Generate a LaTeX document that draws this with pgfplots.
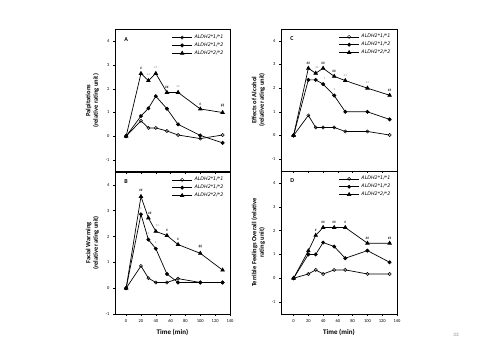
\documentclass[border=0pt]{standalone}
\usepackage{pgfplots}
\pgfplotsset{compat=1.18}
\usepackage{fontspec}
\setmainfont{Carlito}
\newfontfamily\legfont{DejaVu Sans}
\tikzset{ann/.style={font=\fontsize{3.5}{3.5}\selectfont, inner sep=0pt, anchor=south}}
\begin{document}
\begin{tikzpicture}[x=1pt,y=1pt]
\path[use as bounding box,fill=white] (0,0) rectangle (479,359);
\pgfplotsset{
  panel/.style={
    scale only axis, width=115pt, height=142pt,
    xmin=-15, xmax=140,
    xtick pos=left, ytick pos=left,
    axis line style={line width=0.8pt},
    xtick={0,20,...,140}, ytick={-1,0,...,4},
    tick align=outside, major tick length=2pt,
    tick style={black,line width=0.5pt},
    /pgf/number format/assume math mode=true,
    tick label style={font=\fontsize{4.5}{5}\selectfont},
    ylabel style={font=\fontsize{6.5}{7.5}\selectfont\bfseries, align=center},
    xlabel style={font=\fontsize{7}{8}\selectfont\bfseries},
    legend style={draw=none, fill=none, at={(0.97,0.985)}, anchor=north east,
      font=\legfont\fontsize{4.8}{5.5}\selectfont\itshape, row sep=-1.2pt, inner sep=1pt},
    legend cell align=left,
    legend image code/.code={\draw[mark repeat=2,mark phase=2,##1] plot coordinates {(0pt,0pt) (10pt,0pt) (20pt,0pt)};},
    clip=false,
  },
  s11/.style={black, line width=0.7pt, mark=o, mark size=1.6pt, mark options={fill=white,line width=0.5pt}},
  s12/.style={black, line width=0.7pt, mark=*, mark size=1.6pt},
  s22/.style={black, line width=0.7pt, mark=triangle*, mark size=2pt},
}
% Panel A
\begin{axis}[panel, at={(115pt,187.3pt)}, ymin=-1.5, ymax=4.5, xticklabels={},
  ylabel={Palpitations\\(relative rating unit)}]
\addplot[s11] coordinates {(0,0) (20,0.65) (30,0.35) (40,0.35) (55,0.22) (70,0.05) (100,-0.1) (130,0.05)};
\addplot[s12] coordinates {(0,0) (20,0.85) (30,1.18) (40,1.69) (55,1.16) (70,0.5) (100,0.03) (130,-0.28)};
\addplot[s22] coordinates {(0,0) (20,2.65) (30,2.35) (40,2.65) (55,1.85) (70,1.85) (100,1.15) (130,1.0)};
\legend{ALDH2*1/*1,ALDH2*1/*2,ALDH2*2/*2}
\node[font=\fontsize{6}{6}\selectfont\bfseries,anchor=north west] at (axis description cs:0.05,0.97) {A};
\node[ann] at (axis cs:20,2.8) {\#};
\node[ann] at (axis cs:30,2.5) {**};
\node[ann] at (axis cs:40,2.8) {**};
\node[ann] at (axis cs:55,2.0) {\#\#};
\node[ann] at (axis cs:70,2.0) {**};
\node[ann] at (axis cs:100,1.3) {\#};
\node[ann,align=center] at (axis cs:130,1.15) {\#\#\\[-1.5pt]**};
\end{axis}
% Panel B
\begin{axis}[panel, at={(115pt,45pt)}, ymin=-1, ymax=4.5,
  xlabel={Time (min)},
  ylabel={Facial Warming\\(relative rating unit)}]
\addplot[s11] coordinates {(0,0) (20,0.86) (30,0.39) (40,0.22) (55,0.22) (70,0.37) (100,0.22) (130,0.22)};
\addplot[s12] coordinates {(0,0) (20,2.86) (30,1.88) (40,1.53) (55,0.55) (70,0.22) (100,0.22) (130,0.22)};
\addplot[s22] coordinates {(0,0) (20,3.55) (30,2.72) (40,2.2) (55,2.04) (70,1.69) (100,1.35) (130,0.7)};
\legend{ALDH2*1/*1,ALDH2*1/*2,ALDH2*2/*2}
\node[font=\fontsize{6}{6}\selectfont\bfseries,anchor=north west] at (axis description cs:0.05,0.97) {B};
\node[ann] at (axis cs:20,3.72) {\#\#};
\node[ann] at (axis cs:20,3.0) {*};
\node[ann] at (axis cs:32,2.85) {\#\#};
\node[ann] at (axis cs:30,2.02) {*};
\node[ann] at (axis cs:42,2.33) {**};
\node[ann] at (axis cs:40,1.67) {*};
\node[ann] at (axis cs:55,2.18) {\#};
\node[ann] at (axis cs:70,1.83) {\#};
\node[ann,align=center] at (axis cs:100,1.5) {\#\#\\[-1.5pt]**};
\end{axis}
% Panel C
\begin{axis}[panel, at={(281pt,188pt)}, xmin=-17, width=116pt, ymin=-1.5, ymax=4.5, xticklabels={},
  ylabel={Effects of Alcohol\\(relative rating unit)}]
\addplot[s11] coordinates {(0,0) (20,0.85) (30,0.34) (40,0.34) (55,0.34) (70,0.17) (100,0.17) (130,0.02)};
\addplot[s12] coordinates {(0,0) (20,2.35) (30,2.35) (40,2.17) (55,1.69) (70,1.0) (100,1.0) (130,0.68)};
\addplot[s22] coordinates {(0,0) (20,2.84) (30,2.63) (40,2.84) (55,2.5) (70,2.32) (100,2.0) (130,1.7)};
\legend{ALDH2*1/*1,ALDH2*1/*2,ALDH2*2/*2}
\node[font=\fontsize{6}{6}\selectfont\bfseries,anchor=north west] at (axis description cs:0.05,0.97) {C};
\node[ann] at (axis cs:20,2.98) {\#\#};
\node[ann] at (axis cs:32,2.77) {**};
\node[ann] at (axis cs:40,2.98) {\#\#};
\node[ann] at (axis cs:55,2.64) {\#\#};
\node[ann] at (axis cs:70,2.46) {**};
\node[ann] at (axis cs:100,2.14) {**};
\node[ann] at (axis cs:130,1.84) {\#\#};
\node[ann] at (axis cs:42,2.3) {*};
\node[ann] at (axis cs:55,1.83) {*};
\end{axis}
% Panel D
\begin{axis}[panel, at={(281pt,45pt)}, xmin=-17, width=116pt, height=143pt, ymin=-1.5, ymax=4.5,
  xlabel={Time (min)},
  ylabel={Terrible Feelings Overall (relative\\rating unit)}]
\addplot[s11] coordinates {(0,0) (20,0.18) (30,0.35) (40,0.18) (55,0.35) (70,0.35) (100,0.18) (130,0.18)};
\addplot[s12] coordinates {(0,0) (20,1.0) (30,1.0) (40,1.5) (55,1.33) (70,0.84) (100,1.16) (130,0.67)};
\addplot[s22] coordinates {(0,0) (20,1.15) (30,1.8) (40,2.13) (55,2.13) (70,2.13) (100,1.47) (130,1.47)};
\legend{ALDH2*1/*1,ALDH2*1/*2,ALDH2*2/*2}
\node[font=\fontsize{6}{6}\selectfont\bfseries,anchor=north west] at (axis description cs:0.05,0.97) {D};
\node[ann] at (axis cs:30,1.94) {\#};
\node[ann] at (axis cs:40,2.27) {\#\#};
\node[ann] at (axis cs:55,2.27) {\#\#};
\node[ann] at (axis cs:70,2.27) {\#};
\node[ann] at (axis cs:100,1.61) {\#\#};
\node[ann] at (axis cs:130,1.61) {\#\#};
\end{axis}
\node[font=\fontsize{5}{5}\selectfont, text=gray] at (456pt,24pt) {33};
\end{tikzpicture}
\end{document}
